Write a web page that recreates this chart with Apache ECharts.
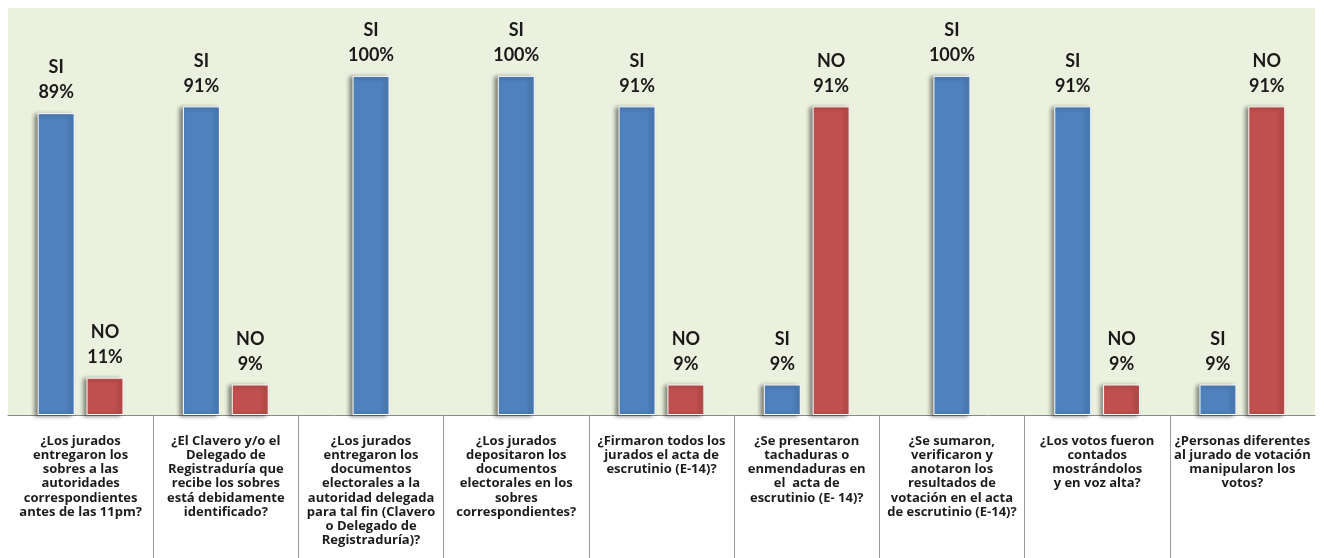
<!DOCTYPE html>
<html>
<head>
<meta charset="utf-8">
<script src="https://cdn.jsdelivr.net/npm/echarts@6/dist/echarts.min.js"></script>
<style>
html,body{margin:0;padding:0;background:#fff;}
#chart{width:1324px;height:558px;}
</style>
</head>
<body>
<div id="chart"></div>
<script>
const categories = [
  "¿Los jurados\nentregaron los\nsobres a las\nautoridades\ncorrespondientes\nantes de las 11pm?",
  "¿El Clavero y/o el\nDelegado de\nRegistraduría que\nrecibe los sobres\nestá debidamente\nidentificado?",
  "¿Los jurados\nentregaron los\ndocumentos\nelectorales a la\nautoridad delegada\npara tal fin (Clavero\no Delegado de\nRegistraduría)?",
  "¿Los jurados\ndepositaron los\ndocumentos\nelectorales en los\nsobres\ncorrespondientes?",
  "¿Firmaron todos los\njurados el acta de\nescrutinio (E-14)?",
  "¿Se presentaron\ntachaduras o\nenmendaduras en\nel  acta de\nescrutinio (E- 14)?",
  "¿Se sumaron,\nverificaron y\nanotaron los\nresultados de\nvotación en el acta\nde escrutinio (E-14)?",
  "¿Los votos fueron\ncontados\nmostrándolos\ny en voz alta?",
  "¿Personas diferentes\nal jurado de votación\nmanipularon los\nvotos?"
];
const siValues = [89, 91, 100, 100, 91, 9, 100, 91, 9];
const noValues = [11, 9, null, null, 9, 91, null, 9, 91];
const separatorTicks = [1, 2, 3, 4, 5, 6, 7, 8];

const siPaired = siValues.map((v, i) => noValues[i] == null ? null : v);
const siAlone = siValues.map((v, i) => noValues[i] == null ? v : null);

const barStyle = (c) => ({
  color: c,
  borderColor: '#ffffff',
  borderWidth: 1,
  shadowColor: 'rgba(0,0,0,0.45)',
  shadowBlur: 4,
  shadowOffsetX: -3,
  shadowOffsetY: 1
});
const lbl = (name) => ({
  show: true,
  position: 'top',
  distance: 8,
  formatter: (p) => name + '\n' + p.value + '%',
  fontFamily: 'Lato',
  fontWeight: 'bold',
  fontSize: 18,
  lineHeight: 25,
  color: '#1a1a1a'
});

const chart = echarts.init(document.getElementById('chart'), null, {renderer: 'canvas'});
chart.setOption({
  animation: false,
  backgroundColor: '#ffffff',
  grid: {left: 8, right: 9, top: 8, bottom: 143, show: true, backgroundColor: '#EBF1DE', borderWidth: 0},
  xAxis: [
    {
      type: 'category', data: categories, position: 'bottom',
      axisLine: {show: true, lineStyle: {color: '#8a8a8a', width: 1}},
      axisTick: {show: false},
      axisLabel: {
        interval: 0, margin: 19, fontFamily: 'Open Sans', fontWeight: 'bold', fontSize: 13,
        lineHeight: 14.2, color: '#1c1c1c', align: 'center', verticalAlign: 'top'
      }
    },
    {type: 'category', data: categories, show: false},
    {
      type: 'value', min: 0, max: 9, position: 'bottom',
      axisLine: {show: false}, axisLabel: {show: false}, splitLine: {show: false},
      axisTick: {show: true, customValues: separatorTicks, length: 145, lineStyle: {color: '#9a9a9a', width: 1}}
    }
  ],
  yAxis: {type: 'value', min: 0, max: 120, show: false, splitLine: {show: false}},
  series: [
    {name: 'SI', type: 'bar', xAxisIndex: 0, data: siPaired, barWidth: 37, barGap: '32%', itemStyle: barStyle('#4F81BD'), label: lbl('SI')},
    {name: 'NO', type: 'bar', xAxisIndex: 0, data: noValues, barWidth: 37, barGap: '32%', itemStyle: barStyle('#C0504D'), label: lbl('NO')},
    {name: 'SI', type: 'bar', xAxisIndex: 1, data: siAlone, barWidth: 37, itemStyle: barStyle('#4F81BD'), label: lbl('SI')}
  ]
});
</script>
</body>
</html>
